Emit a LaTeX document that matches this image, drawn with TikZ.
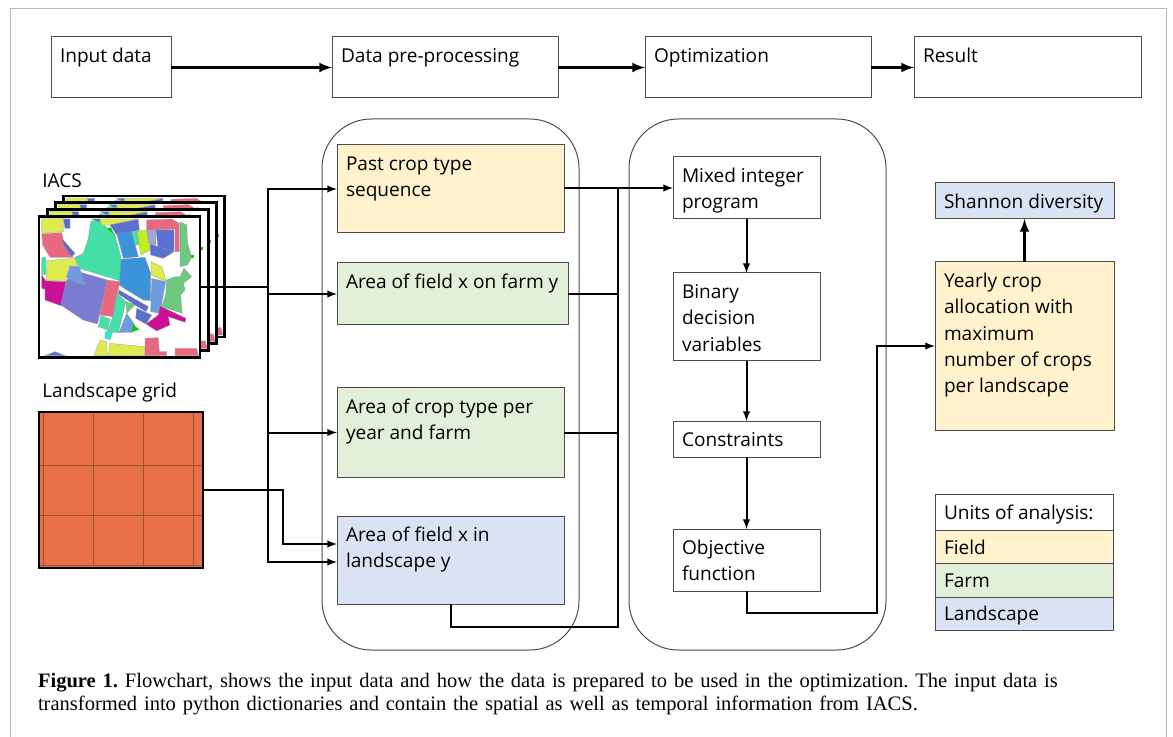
\documentclass[tikz,border=0pt]{standalone}
\usepackage{fontspec}
\setmainfont{Open Sans}
\newfontfamily\capfont{Liberation Serif}
\usetikzlibrary{arrows,calc,positioning}
\definecolor{fieldcol}{HTML}{FFF2CC}
\definecolor{farmcol}{HTML}{E2F0D9}
\definecolor{landcol}{HTML}{DAE3F3}
\definecolor{gridcol}{HTML}{E97148}
\definecolor{mapyel}{HTML}{DDEB4F}
\definecolor{mapblu}{HTML}{5B6FD0}
\definecolor{mapsky}{HTML}{3B94D8}
\definecolor{maplig}{HTML}{6F9BE0}
\definecolor{mapred}{HTML}{E8697F}
\definecolor{mapmag}{HTML}{CC1199}
\definecolor{maptea}{HTML}{45DFA8}
\definecolor{mappur}{HTML}{7B7BD0}
\definecolor{mapgre}{HTML}{6FC87F}
\definecolor{maplim}{HTML}{C5EE20}
\newlength{\unitpx}
\setlength{\unitpx}{0.75pt}
\newcommand{\boxtxt}[4][25.5]{\parbox[c][#3\unitpx][t]{#2\unitpx}{\leftskip=9\unitpx\rightskip=0pt plus 1fil\rule{0pt}{#1\unitpx}#4}}
\tikzset{
  stepbox/.style={draw=black!70,line width=0.75pt,inner sep=0pt,outer sep=0pt,anchor=north west,font=\fontsize{14.3}{19.7}\selectfont},
  panel/.style={draw=black!70,line width=0.75pt,rounded corners=37pt,inner sep=0pt,outer sep=0pt,anchor=north west},
  link/.style={line width=1.5pt,-latex},
  bigl/.style={line width=2.25pt,-latex},
  plain/.style={line width=1.5pt},
  parcel/.style={draw=black!40,line width=0.2pt},
  heading/.style={inner sep=0pt,anchor=north west,font=\fontsize{14.3}{19.7}\selectfont},
}
\newcommand{\iacsmap}{%
  \draw[parcel,fill=mapyel] (65,146) -- (130,146) -- (130,185) -- (65,190) -- cycle;
  \draw[parcel,fill=mapblu] (130,147) -- (150,147) -- (150,175) -- (135,175) -- cycle;
  \draw[parcel,fill=mapblu] (215,147) -- (240,147) -- (240,160) -- cycle;
  \draw[parcel,fill=mapred] (65,192) -- (125,188) -- (130,210) -- (160,262) -- (90,262) -- (68,225) -- cycle;
  \draw[parcel,fill=mapblu] (128,208) -- (165,250) -- (155,260) -- (130,225) -- cycle;
  \draw[parcel,fill=maptea] (213,153) -- (240,155) -- (285,195) -- (303,262) -- (302,333) -- (178,295) -- (165,262) -- (190,250) -- (205,205) -- cycle;
  \draw[parcel,fill=maptea] (65,263) -- (78,263) -- (78,312) -- (65,315) -- cycle;
  \draw[parcel,fill=mapyel] (82,272) -- (165,265) -- (172,288) -- (145,290) -- (138,333) -- (78,332) -- cycle;
  \draw[parcel,fill=mapmag] (65,315) -- (78,333) -- (138,335) -- (125,408) -- (75,390) -- (75,358) -- (65,355) -- cycle;
  \draw[parcel,fill=mappur] (140,330) -- (175,305) -- (262,330) -- (240,430) -- (232,462) -- (190,450) -- (122,405) -- cycle;
  \draw[parcel,fill=maplig] (150,288) -- (178,290) -- (195,345) -- (160,335) -- (140,322) -- cycle;
  \draw[parcel,fill=mapred] (262,330) -- (300,335) -- (278,440) -- (240,435) -- cycle;
  \draw[parcel,fill=maptea] (243,437) -- (270,447) -- (262,480) -- (235,470) -- cycle;
  \draw[parcel,fill=maptea] (290,370) -- (318,395) -- (295,488) -- (262,485) -- (280,435) -- cycle;
  \draw[parcel,fill=maplig] (320,430) -- (345,465) -- (335,487) -- (297,488) -- cycle;
  \draw[parcel,fill=mapgre] (318,395) -- (345,405) -- (320,430) -- cycle;
  \draw[parcel,fill=mapyel] (240,147) -- (355,147) -- (270,165) -- (245,165) -- cycle;
  \draw[parcel,fill=mapblu] (270,165) -- (355,148) -- (358,180) -- (290,195) -- cycle;
  \fill[green!80!black] (262,175) -- (272,172) -- (284,195) -- cycle;
  \draw[parcel,fill=mapsky] (290,190) -- (335,185) -- (355,260) -- (310,265) -- cycle;
  \draw[parcel,fill=maptea] (335,185) -- (352,182) -- (358,225) -- (345,225) -- cycle;
  \draw[parcel,fill=maplim] (352,183) -- (380,180) -- (390,240) -- (362,255) -- cycle;
  \draw[parcel,fill=mapred] (380,150) -- (455,147) -- (478,160) -- (478,245) -- (465,245) -- (465,178) -- (380,180) -- cycle;
  \draw[parcel,fill=mappur!70!white] (380,180) -- (408,180) -- (408,225) -- (388,220) -- cycle;
  \draw[parcel,fill=mapblu] (408,180) -- (462,180) -- (462,245) -- (415,240) -- cycle;
  \draw[parcel,fill=mapblu] (390,222) -- (462,245) -- (430,265) -- (392,255) -- cycle;
  \draw[parcel,fill=mapgre] (480,155) -- (500,165) -- (503,220) -- (515,262) -- (503,285) -- (480,290) -- cycle;
  \draw[parcel,fill=mapsky] (303,268) -- (375,262) -- (392,310) -- (392,392) -- (370,390) -- (320,360) -- (298,345) -- cycle;
  \draw[parcel,fill=mapyel] (393,275) -- (425,290) -- (440,335) -- (393,315) -- cycle;
  \draw[parcel,fill=mapblu] (297,360) -- (385,410) -- (378,425) -- (345,405) -- (295,372) -- cycle;
  \draw[parcel,fill=maplig] (395,325) -- (437,335) -- (420,430) -- (392,425) -- cycle;
  \draw[parcel,fill=mapblu] (350,415) -- (395,435) -- (378,462) -- (347,445) -- cycle;
  \draw[parcel,fill=mapgre] (440,330) -- (465,320) -- (480,320) -- (492,295) -- (515,320) -- (490,340) -- (495,360) -- (482,375) -- (487,430) -- (425,410) -- (437,375) -- cycle;
  \draw[parcel,fill=mapmag] (420,408) -- (498,445) -- (495,457) -- (445,440) -- (450,465) -- (410,483) -- (378,462) -- (415,435) -- cycle;
  \draw[parcel,fill=maptea!60!cyan] (255,485) -- (278,485) -- (270,510) -- (255,505) -- cycle;
  \draw[parcel,fill=mapyel] (240,510) -- (260,515) -- (262,557) -- (222,557) -- cycle;
  \draw[parcel,fill=mapyel] (270,520) -- (375,530) -- (375,557) -- (265,557) -- cycle;
  \draw[parcel,fill=mapred] (375,505) -- (415,503) -- (418,545) -- (440,545) -- (440,557) -- (375,557) -- cycle;
  \draw[parcel,fill=mapred] (465,535) -- (530,535) -- (535,557) -- (465,557) -- cycle;
  \draw[parcel,fill=mapblu] (75,557) -- (105,545) -- (135,557) -- cycle;
  \fill[green!80!black] (340,465) -- (358,478) -- (335,487) -- cycle;
  \fill[green!80!black] (514,254) rectangle (523,263);
}
\begin{document}
\begin{tikzpicture}[x=0.75pt,y=0.75pt,yscale=-1,xscale=1]
\useasboundingbox (0,0) rectangle (1173,737);

%outer frame
\draw[black!28,line width=1pt] (10.5,737) -- (10.5,8.5) -- (1166.5,8.5) -- (1166.5,737);

%top row
\node[stepbox] (input) at (51,37) {\boxtxt{120}{61}{Input data}};
\node[stepbox] (prep) at (332,37) {\boxtxt{226}{61}{Data pre-processing}};
\node[stepbox] (optim) at (645,37) {\boxtxt{226}{61}{Optimization}};
\node[stepbox] (result) at (914,37) {\boxtxt{227}{61}{Result}};
\draw[bigl] (input) -- (prep);
\draw[bigl] (prep) -- (optim);
\draw[bigl] (optim) -- (result);

%panels
\node[panel,minimum width=257\unitpx,minimum height=531\unitpx] (prepanel) at (322,119) {};
\node[panel,minimum width=257\unitpx,minimum height=531\unitpx] (optpanel) at (629,119) {};

%IACS stack
\node[heading] (iacslab) at (42,173) {IACS};
\foreach \dx/\dy in {73/-62,50/-43,26/-22,0/0}{
  \begin{scope}[shift={(20+\dx/3,170+\dy/3)},scale=1/3]
    \fill[white] (57,140) rectangle (540,563);
    \begin{scope}
      \clip (57,140) rectangle (540,563);
      \iacsmap
    \end{scope}
    \draw[line width=2pt] (57,140) rectangle (540,563);
  \end{scope}
}
\node[inner sep=0pt,outer sep=0pt,anchor=north west,minimum width=161\unitpx,minimum height=141\unitpx] (iacs) at (39,217) {};

%landscape grid
\node[heading] (gridlab) at (42,383) {Landscape grid};
\node[fill=gridcol,inner sep=0pt,outer sep=0pt,anchor=north west,minimum width=164\unitpx,minimum height=156\unitpx] (grid) at (39,412) {};
\foreach \gx in {43,93,143,193}
  \draw[black!30!gridcol,line width=0.5pt] (\gx,412) -- (\gx,568);
\foreach \gy in {465,515,565}
  \draw[black!30!gridcol,line width=0.5pt] (39,\gy) -- (203,\gy);
\draw[line width=2pt] (grid.north west) rectangle (grid.south east);

%pre-processing boxes
\node[stepbox,fill=fieldcol] (past) at (337,145) {\boxtxt{227}{88}{Past crop type\\sequence}};
\node[stepbox,fill=farmcol] (farm) at (337,263) {\boxtxt{231}{62}{Area of field x on farm y}};
\node[stepbox,fill=farmcol] (croptype) at (337,388) {\boxtxt{227}{89}{Area of crop type per\\year and farm}};
\node[stepbox,fill=landcol] (landsc) at (337,516) {\boxtxt{227}{88}{Area of field x in\\landscape y}};

%optimization boxes
\node[stepbox] (mip) at (673,157) {\boxtxt{147}{62}{Mixed integer\\program}};
\node[stepbox] (binary) at (673,273) {\boxtxt{147}{88}{Binary\\decision\\variables}};
\node[stepbox] (constr) at (673,421) {\boxtxt{147}{36}{Constraints}};
\node[stepbox] (objf) at (673,529) {\boxtxt{147}{62}{Objective\\function}};

%result side
\node[stepbox,fill=landcol] (shannon) at (935,183) {\boxtxt{179}{36}{Shannon diversity}};
\node[stepbox,fill=fieldcol] (yearly) at (935,262) {\boxtxt{179}{168}{Yearly crop\\allocation with\\maximum\\number of crops\\per landscape}};

%legend
\node[stepbox] (units) at (935,494) {\boxtxt{178}{36}{Units of analysis:}};
\node[stepbox,fill=fieldcol] (lfield) at (935,530) {\boxtxt[24.5]{178}{33}{Field}};
\node[stepbox,fill=farmcol] (lfarm) at (935,563) {\boxtxt[24.5]{178}{34}{Farm}};
\node[stepbox,fill=landcol] (lland) at (935,597) {\boxtxt[23.5]{178}{33}{Landscape}};

%input lines
\coordinate (trunk) at (268,287.5);
\coordinate (gridbend) at (283,544);
\coordinate (gridin) at (337,544);
\coordinate (iacsin) at (337,562);
\draw[plain] (iacs.east) -- (trunk);
\draw[link] (trunk) |- (past.west);
\draw[link] (trunk) |- (farm.west);
\draw[link] (trunk) |- (croptype.west);
\draw[link] (trunk) |- (iacsin);
\draw[link] (grid.east) -| (gridbend) -- (gridin);

%bus to the program
\coordinate (bustop) at (618,188);
\coordinate (buslow) at (618,627);
\draw[link] (past.east |- mip.west) -- (mip.west);
\draw[plain] (farm.east) -- (farm.east -| bustop);
\draw[plain] (croptype.east) -- (croptype.east -| bustop);
\draw[plain] (landsc.south) |- (buslow) -- (bustop);

%optimization chain
\coordinate (objbend) at (877,613);
\coordinate (yearin) at (935,346);
\draw[link] (mip) -- (binary);
\draw[link] (binary) -- (constr);
\draw[link] (constr) -- (objf);
\draw[link] (objf.south) |- (objbend) |- (yearin);
\draw[bigl] (yearly.north -| shannon) -- (shannon);

%caption
\node[inner sep=0pt,outer sep=0pt,anchor=north west,text width=1090\unitpx,align=left,font=\capfont\frenchspacing\fontsize{15.4}{17.25}\selectfont] (caption) at (38,673) {\textbf{Figure 1.} Flowchart, shows the input data and how the data is prepared to be used in the optimization. The input data is\\transformed into python dictionaries and contain the spatial as well as temporal information from IACS.};
\end{tikzpicture}
\end{document}
